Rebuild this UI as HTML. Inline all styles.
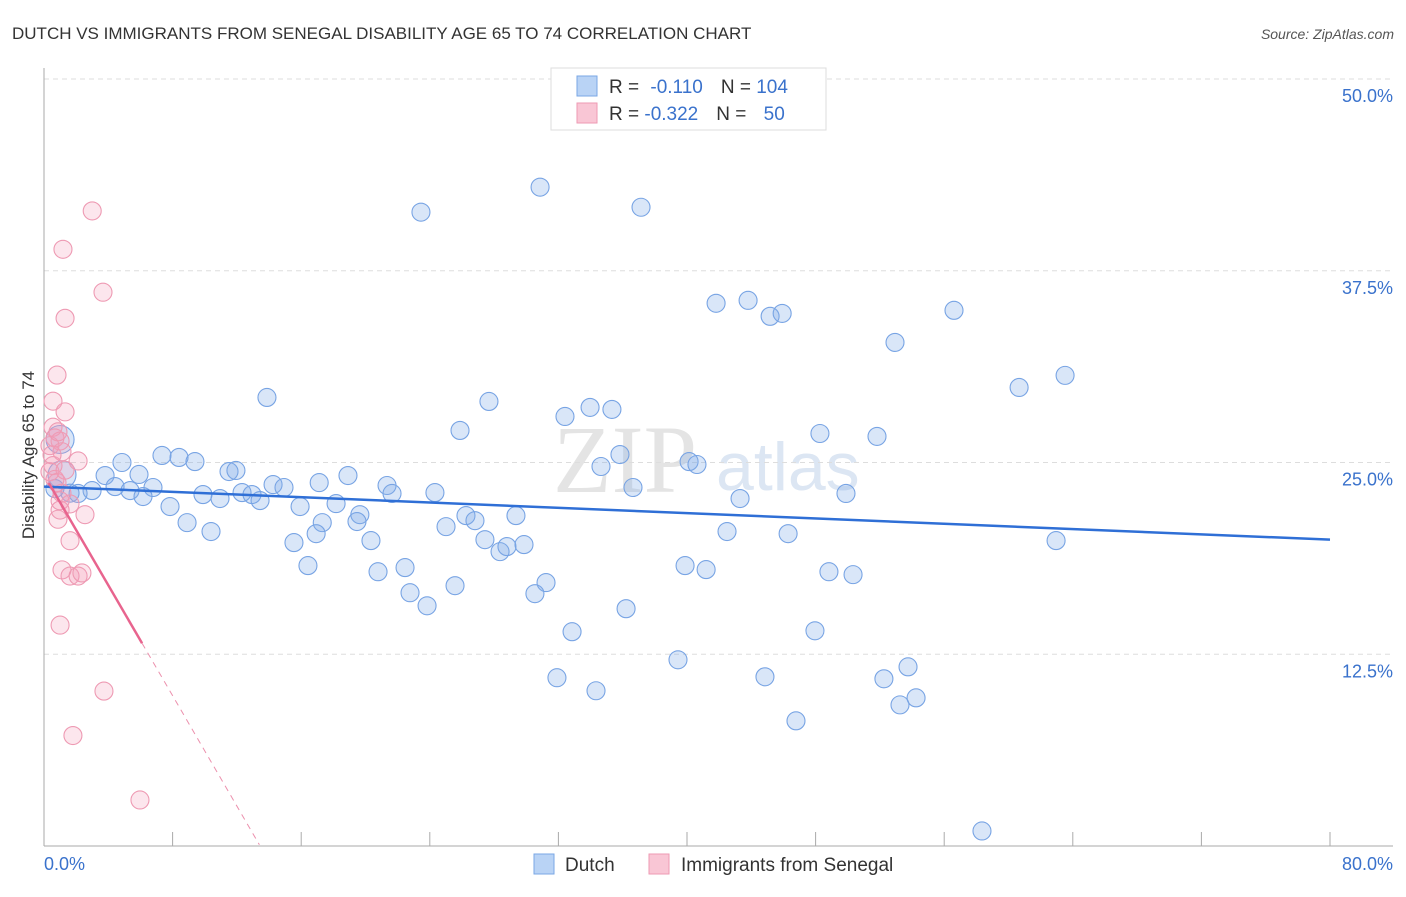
<!DOCTYPE html>
<html><head><meta charset="utf-8"><style>
body{margin:0;background:#fff;font-family:"Liberation Sans",sans-serif}
</style></head><body>
<svg id="c" width="1406" height="892" xmlns="http://www.w3.org/2000/svg">
<text x="12" y="39" font-size="17" fill="#333">DUTCH VS IMMIGRANTS FROM SENEGAL DISABILITY AGE 65 TO 74 CORRELATION CHART</text>
<text x="1394" y="39" font-size="14" fill="#555" font-style="italic" text-anchor="end">Source: ZipAtlas.com</text>
<text x="553" y="492" font-size="96" fill="#e4e4e4" font-family="Liberation Serif,serif">ZIP</text>
<text x="716" y="490" font-size="68" fill="#dce6f3">atlas</text>
<g id="grid"></g>
<g id="pts"></g>
<g id="trend"></g>
<text transform="translate(34,455) rotate(-90)" font-size="17" fill="#333" text-anchor="middle">Disability Age 65 to 74</text>
<g>
<rect x="551" y="68" width="275" height="62" fill="#fff" stroke="#ddd"/>
<rect x="577" y="76" width="20" height="20" fill="#b9d3f5" stroke="#7aa7e5"/>
<rect x="577" y="103" width="20" height="20" fill="#f9c6d5" stroke="#ee9ab3"/>
<text x="609" y="93" font-size="19" fill="#333">R = <tspan fill="#3a72cc" dx="6">-0.110</tspan><tspan dx="18" fill="#333">N = </tspan><tspan fill="#3a72cc">104</tspan></text>
<text x="609" y="120" font-size="19" fill="#333">R = <tspan fill="#3a72cc">-0.322</tspan><tspan dx="18" fill="#333">N = </tspan><tspan fill="#3a72cc" dx="12">50</tspan></text>
</g>
<g>
<rect x="534" y="854" width="20" height="20" fill="#b9d3f5" stroke="#7aa7e5"/>
<text x="565" y="871" font-size="19" fill="#333">Dutch</text>
<rect x="649" y="854" width="20" height="20" fill="#f9c6d5" stroke="#ee9ab3"/>
<text x="681" y="871" font-size="19" fill="#333">Immigrants from Senegal</text>
</g>
</svg>
<script>
const dutchX=[30.86,23.45,37.14,41.81,43.80,45.17,45.92,56.61,52.94,60.66,63.52,13.87,27.68,32.41,33.97,35.33,25.88,48.27,51.82,35.83,34.65,40.13,40.62,36.64,43.30,49.89,62.96,42.49,46.29,7.34,8.40,9.39,4.85,3.80,5.91,11.51,11.94,18.91,14.25,14.93,17.12,21.34,21.65,4.42,5.35,6.78,6.16,2.99,2.12,9.89,10.95,12.32,12.94,13.44,24.32,15.93,18.17,7.84,8.90,10.39,17.31,16.93,19.65,19.47,26.25,26.81,29.36,25.01,15.55,20.34,27.43,28.37,28.80,29.86,16.42,20.78,22.46,31.23,25.57,30.54,22.77,23.83,39.88,41.19,48.83,50.33,36.21,32.85,47.96,39.44,53.75,31.91,44.85,52.25,34.34,54.25,53.25,46.78,58.35,1.0,1.12,0.68,1.62];
const dutchY=[42.95,41.32,41.64,35.38,35.57,34.53,34.72,34.92,32.83,29.89,30.68,29.24,28.98,28.00,28.59,28.46,27.09,26.89,26.70,25.52,24.74,25.06,24.87,23.37,22.65,22.98,19.91,20.50,20.36,25.46,25.33,25.06,25.0,24.15,24.22,24.41,24.48,24.15,23.56,23.37,23.69,23.50,22.98,23.43,23.17,23.37,22.78,23.17,22.98,22.91,22.65,23.04,22.91,22.52,23.04,22.13,22.32,22.13,21.08,20.50,21.08,20.36,21.60,21.15,21.54,21.21,21.54,20.82,19.78,19.91,19.97,19.19,19.52,19.65,18.28,17.88,18.15,17.17,16.97,16.45,16.51,15.66,18.28,18.02,17.88,17.69,15.47,13.97,14.03,12.14,11.68,10.97,11.03,10.90,10.12,9.66,9.20,8.16,0.98,26.5,24.2,23.3,23.0];
const senX=[3.0,1.18,3.67,1.31,0.81,0.56,1.31,0.56,0.68,1.0,0.37,1.12,2.12,0.56,0.37,0.81,1.12,2.55,0.87,1.0,1.62,1.12,1.62,2.12,2.36,1.0,3.73,1.80,5.97,1.0,0.68,1.31,0.5,1.62,0.87];
const senY=[41.4,38.9,36.1,34.4,30.7,29.0,28.3,27.3,26.6,26.4,26.1,25.7,25.1,24.8,24.4,23.7,23.0,21.6,21.3,21.9,19.9,18.0,17.6,17.6,17.8,14.4,10.1,7.2,3.0,22.5,23.9,24.5,25.5,22.3,27.0];
const yTicks=[12.5,25,37.5,50];
const yTickLabels=["12.5%","25.0%","37.5%","50.0%"];
const xTicks=[0,8,16,24,32,40,48,56,64,72,80];
const blueTrend=[23.43,19.97];
const pinkTrend=[24.2,-1.8];
const pinkSolidEnd=6.1, pinkDashEnd=13.4;

const X0=44,X1=1330,Y0=846,Ytop=79;
const sx=v=>X0+(v/80)*(X1-X0);
const sy=v=>Y0-(v/50)*(Y0-Ytop);
const NS="http://www.w3.org/2000/svg";
function mk(tag,attrs,parent){const e=document.createElementNS(NS,tag);for(const k in attrs)e.setAttribute(k,attrs[k]);parent.appendChild(e);return e;}
const grid=document.getElementById('grid');
yTicks.forEach((t,i)=>{
  const l=mk('line',{x1:X0,x2:1393,y1:sy(t),y2:sy(t),stroke:'#ddd','stroke-dasharray':'5,4'},grid);
  
  
  const tx=mk('text',{x:1393,y:sy(t)+23,'font-size':18,fill:'#3a72cc','text-anchor':'end'},grid);
  tx.textContent=yTickLabels[i];
  
  
});
const ax=mk('line',{x1:X0,x2:X0,y1:68,y2:Y0,stroke:'#aaa'},grid);


const bx=mk('line',{x1:X0,x2:1393,y1:Y0,y2:Y0,stroke:'#aaa'},grid);


xTicks.forEach(t=>{
  const l=mk('line',{x1:sx(t),x2:sx(t),y1:Y0-14,y2:Y0,stroke:'#aaa'},grid);
  
  
});
const xl=mk('text',{x:44,y:870,'font-size':18,fill:'#3a72cc'},grid);xl.textContent='0.0%';


const xr=mk('text',{x:1393,y:870,'font-size':18,fill:'#3a72cc','text-anchor':'end'},grid);xr.textContent='80.0%';


const pts=document.getElementById('pts');
dutchX.forEach((x,i)=>{
  const big=(i>=dutchX.length-4&&i<dutchX.length-2);
  const c=mk('circle',{cx:sx(x),cy:sy(dutchY[i]),r:big?14:9,fill:'rgba(130,172,232,0.3)',stroke:'#78a4e4','stroke-width':1.1},pts);
  
  
});
senX.forEach((x,i)=>{
  const c=mk('circle',{cx:sx(x),cy:sy(senY[i]),r:9,fill:'rgba(244,155,185,0.25)',stroke:'#ee9ab3','stroke-width':1.1},pts);
  
  
});
const tr=document.getElementById('trend');
const b=mk('line',{x1:sx(0),y1:sy(blueTrend[0]),x2:sx(80),y2:sy(blueTrend[1]),stroke:'#2f6fd6','stroke-width':2.5},tr);


const pf=x=>pinkTrend[0]+pinkTrend[1]*x;
const p1=mk('line',{x1:sx(0.3),y1:sy(pf(0.3)),x2:sx(pinkSolidEnd),y2:sy(pf(pinkSolidEnd)),stroke:'#e8648e','stroke-width':2.5},tr);


const p2=mk('line',{x1:sx(pinkSolidEnd),y1:sy(pf(pinkSolidEnd)),x2:sx(pinkDashEnd),y2:sy(pf(pinkDashEnd)),stroke:'#ec90ad','stroke-width':1,'stroke-dasharray':'6,5'},tr);


</script>
</body></html>
